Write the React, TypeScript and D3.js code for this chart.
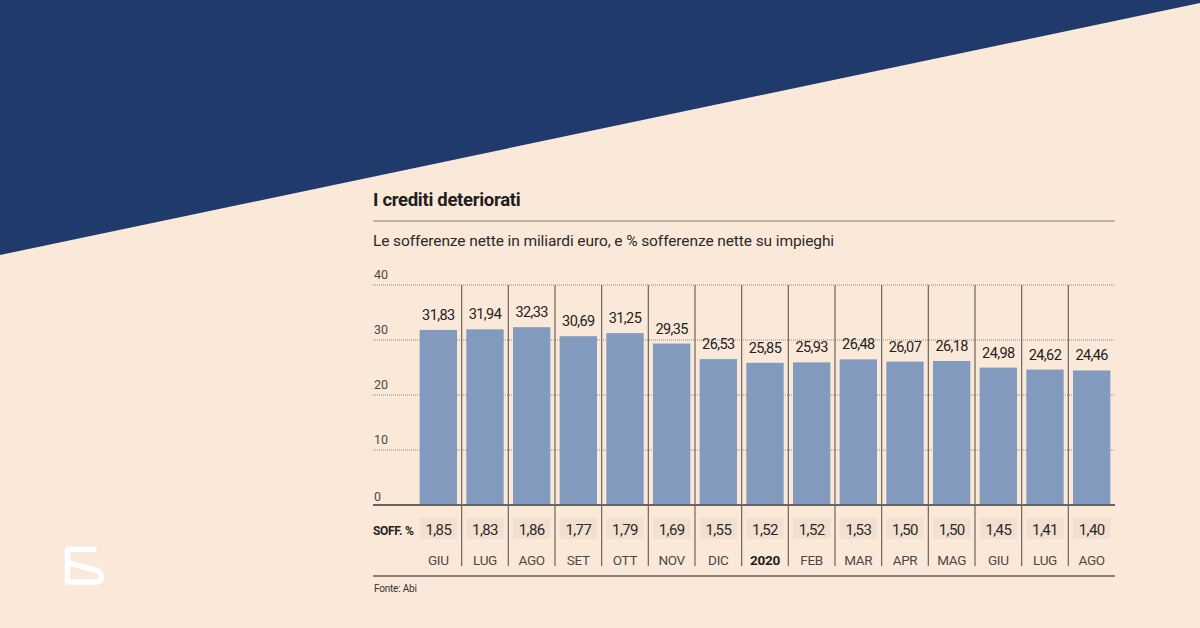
import React from "react";
import * as d3 from "d3";

// Sofferenze nette (miliardi euro) da giugno 2019 ad agosto 2020
const months = ["GIU", "LUG", "AGO", "SET", "OTT", "NOV", "DIC", "2020", "FEB", "MAR", "APR", "MAG", "GIU", "LUG", "AGO"];
const sofferenze = [31.83, 31.94, 32.33, 30.69, 31.25, 29.35, 26.53, 25.85, 25.93, 26.48, 26.07, 26.18, 24.98, 24.62, 24.46];
const soffPct = [1.85, 1.83, 1.86, 1.77, 1.79, 1.69, 1.55, 1.52, 1.52, 1.53, 1.5, 1.5, 1.45, 1.41, 1.4];
const yTicks = [0, 10, 20, 30, 40];

const W = 1200;
const H = 628;
const FONT = "Roboto, 'Noto Sans', sans-serif";

const itLocale = d3.formatLocale({ decimal: ",", thousands: ".", grouping: [3], currency: ["€", ""] });
const fmt2 = itLocale.format(".2f");

export default function App() {
  const left = 373;
  const right = 1115;
  const idx = months.map((_, i) => i);

  const x = d3.scaleBand<number>().domain(idx).range([415, right]).paddingInner(0.2).paddingOuter(0.1);
  const y = d3.scaleLinear().domain([0, 40]).range([505, 285]);
  const step = x.step();
  const gap = step * 0.2;

  return (
    <svg width={W} height={H} style={{ position: "absolute", left: 0, top: 0, display: "block" }} fontFamily={FONT}>
      <rect width={W} height={H} fill="#fae8d9" />
      <polygon points={`0,0 ${W},0 ${W},3 0,255`} fill="#1f3a6b" />

      {/* logo */}
      <path
        d="M94,549.5 H67.5 V582 H97 Q101,582 101,578 V575.5 Q101,572 97.5,571 L68,562.5"
        fill="none"
        stroke="#ffffff"
        strokeWidth={5.5}
        strokeLinejoin="round"
        strokeLinecap="round"
      />

      {/* titolo */}
      <text x={left} y={206} fontSize={18.5} fontWeight="bold" fill="#1e1e1e" letterSpacing={-0.3}>
        I crediti deteriorati
      </text>
      <line x1={left} x2={right} y1={221} y2={221} stroke="#a8a29c" strokeWidth={1.5} />
      <text x={left} y={246} fontSize={15.5} fill="#2a2a2a" letterSpacing={-0.1}>
        Le sofferenze nette in miliardi euro, e % sofferenze nette su impieghi
      </text>

      {/* griglia */}
      {yTicks.filter((t) => t > 0).map((t) => (
        <line key={t} x1={left} x2={right} y1={y(t)} y2={y(t)} stroke="#8f8a85" strokeWidth={1} strokeDasharray="1,1" />
      ))}
      {yTicks.map((t) => (
        <text key={"l" + t} x={left + 1} y={y(t) - (t === 0 ? 4 : 6)} fontSize={12.5} fill="#4a4a4a">
          {t}
        </text>
      ))}

      {/* separatori */}
      {idx.slice(1).map((i) => (
        <line
          key={"s" + i}
          x1={(x(i) as number) - gap / 2}
          x2={(x(i) as number) - gap / 2}
          y1={y(40)}
          y2={566}
          stroke="#6d655d"
          strokeWidth={1.2}
        />
      ))}

      {/* barre */}
      {sofferenze.map((v, i) => (
        <rect key={"b" + i} x={x(i)} y={y(v)} width={x.bandwidth()} height={y(0) - y(v)} fill="#819abd" />
      ))}
      {sofferenze.map((v, i) => (
        <text
          key={"v" + i}
          x={(x(i) as number) + x.bandwidth() / 2}
          y={y(v) - 10}
          fontSize={14.5}
          fill="#222"
          textAnchor="middle"
          letterSpacing={-0.6}
        >
          {fmt2(v)}
        </text>
      ))}
      <line x1={left} x2={right} y1={y(0)} y2={y(0)} stroke="#6b645d" strokeWidth={2} />

      {/* riga percentuali */}
      <text x={left} y={535} fontSize={12} fontWeight="bold" fill="#222" letterSpacing={-0.3}>
        SOFF. %
      </text>
      {soffPct.map((p, i) => (
        <g key={"p" + i}>
          <rect x={x(i)} y={518} width={x.bandwidth()} height={21} fill="#f1dfcf" />
          <text
            x={(x(i) as number) + x.bandwidth() / 2}
            y={535}
            fontSize={15}
            fill="#2a2a2a"
            textAnchor="middle"
            letterSpacing={-0.6}
          >
            {fmt2(p)}
          </text>
        </g>
      ))}
      {months.map((m, i) => (
        <text
          key={"m" + i}
          x={(x(i) as number) + x.bandwidth() / 2}
          y={565}
          fontSize={13.5}
          fill={m === "2020" ? "#1e1e1e" : "#4a4a4a"}
          fontWeight={m === "2020" ? "bold" : "normal"}
          textAnchor="middle"
          letterSpacing={-0.3}
        >
          {m}
        </text>
      ))}
      <line x1={left} x2={right} y1={576} y2={576} stroke="#8a8078" strokeWidth={2} />
      <text x={left + 1} y={592} fontSize={10} fill="#333" letterSpacing={-0.2}>
        Fonte: Abi
      </text>
    </svg>
  );
}
